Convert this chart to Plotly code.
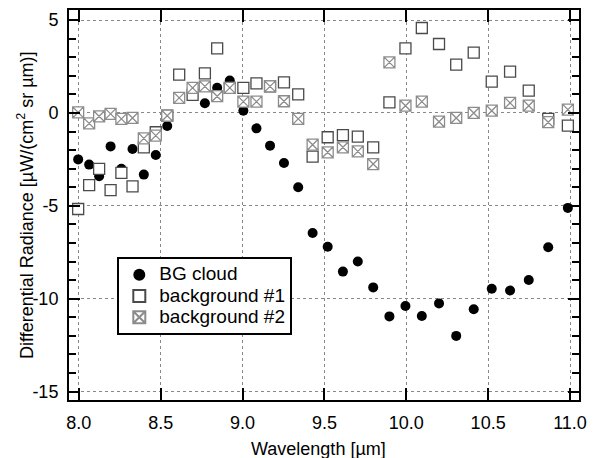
import plotly.graph_objects as go

wavelength = [7.996, 8.063, 8.124, 8.194, 8.26, 8.328, 8.397, 8.47, 8.54, 8.613,
              8.695, 8.77, 8.845, 8.922, 9.005, 9.085, 9.168, 9.253, 9.34, 9.428,
              9.52, 9.613, 9.704, 9.798, 9.897, 9.995, 10.095, 10.2, 10.305, 10.412,
              10.522, 10.634, 10.748, 10.867, 10.987]

bg_cloud = [-2.50, -2.78, -3.41, -1.80, -3.01, -1.94, -3.32, -2.26, -0.70, None,
            None, 0.52, 1.35, 1.74, 0.12, -0.83, -1.76, -2.69, -4.0, -6.46,
            -7.20, -8.54, -8.00, -9.39, -10.95, -10.39, -10.93, -10.25, -12.0, -10.57,
            -9.46, -9.56, -8.99, -7.23, -5.11]

background1 = [-5.17, -3.88, -3.01, -4.15, -3.23, -3.95, -1.85, -1.04, -0.15, 2.06,
               0.97, 2.13, 3.48, 1.35, 1.35, 1.59, 1.43, 1.65, 1.0, -2.35,
               -1.31, -1.19, -1.27, -1.85, 0.57, 3.48, 4.57, 3.71, 2.60, 3.25,
               1.68, 2.22, 1.20, -0.32, -0.68]

background2 = [0.03, -0.56, -0.18, -0.05, -0.32, -0.27, -1.37, -1.22, -0.15, 0.81,
               1.35, 1.43, 0.90, 1.35, 0.61, 0.61, 1.43, 0.63, -0.32, -1.71,
               -2.12, -1.85, -2.07, -2.75, 2.72, 0.39, 0.61, -0.47, -0.27, 0.0,
               0.12, 0.54, 0.39, -0.50, 0.18]

series_names = ["BG cloud", "background #1", "background #2"]

x_ticks = [8.0, 8.5, 9.0, 9.5, 10.0, 10.5, 11.0]
x_ticklabels = ["8.0", "8.5", "9.0", "9.5", "10.0", "10.5", "11.0"]
y_ticks = [5, 0, -5, -10, -15]
y_ticklabels = ["5", "0", "-5", "-10", "-15"]

x_title = "Wavelength [µm]"
y_title = "Differential Radiance [µW/(cm<sup>2</sup> sr µm)]"

FONT = "Liberation Sans, Arial, sans-serif"


def legend_label(s):
    return '<span style="font-size:19px">' + s + '</span>'


fig = go.Figure()
fig.add_trace(go.Scatter(
    x=wavelength, y=bg_cloud, mode="markers", name=legend_label(series_names[0]),
    marker=dict(symbol="circle", size=10, color="black", line=dict(width=0)),
))
fig.add_trace(go.Scatter(
    x=wavelength, y=background1, mode="markers", name=legend_label(series_names[1]),
    marker=dict(symbol="square", size=11, color="white",
                line=dict(color="#4a4a4a", width=1.3)),
))
fig.add_trace(go.Scatter(
    x=wavelength, y=background2, mode="markers", name=legend_label(series_names[2]),
    marker=dict(symbol="square-x", size=11, color="white",
                line=dict(color="#8c8c8c", width=1.3)),
))

axis_common = dict(
    showline=True, linecolor="black", linewidth=2, mirror="ticks",
    ticks="inside", tickcolor="black", tickwidth=2,
    showgrid=True, gridcolor="#888888", griddash="dot", gridwidth=1,
    zeroline=False, automargin=False,
    tickfont=dict(family=FONT, size=18, color="black"),
)

fig.update_layout(
    width=595, height=458,
    margin=dict(l=69, r=16, t=10, b=58),
    paper_bgcolor="white", plot_bgcolor="white",
    font=dict(family=FONT, size=18, color="black"),
    showlegend=True,
    legend=dict(
        x=0.0947, y=0.366, xanchor="left", yanchor="top",
        bgcolor="white", bordercolor="black", borderwidth=2,
        font=dict(family=FONT, size=14, color="black"),
        tracegroupgap=0, itemsizing="constant",
        entrywidth=156,
    ),
    xaxis=dict(
        range=[7.94, 11.055], tickvals=x_ticks, ticktext=x_ticklabels,
        ticklen=12, ticklabelstandoff=5,
        **axis_common,
    ),
    yaxis=dict(
        range=[-15.45, 5.54], tickvals=y_ticks, ticktext=y_ticklabels,
        ticklen=11, ticklabelstandoff=5,
        minor=dict(ticks="inside", ticklen=7, tickwidth=2, tickcolor="black",
                   dtick=1, tick0=0, showgrid=False),
        **axis_common,
    ),
    annotations=[
        dict(text=x_title, xref="paper", yref="paper", x=0.489, y=-0.126,
             xanchor="center", yanchor="middle", showarrow=False,
             font=dict(family=FONT, size=18, color="black")),
        dict(text=y_title, xref="paper", yref="paper", x=-0.0863, y=0.5,
             xanchor="center", yanchor="middle", showarrow=False, textangle=-90,
             font=dict(family=FONT, size=18, color="black")),
    ],
)

fig.write_html("out.html")
